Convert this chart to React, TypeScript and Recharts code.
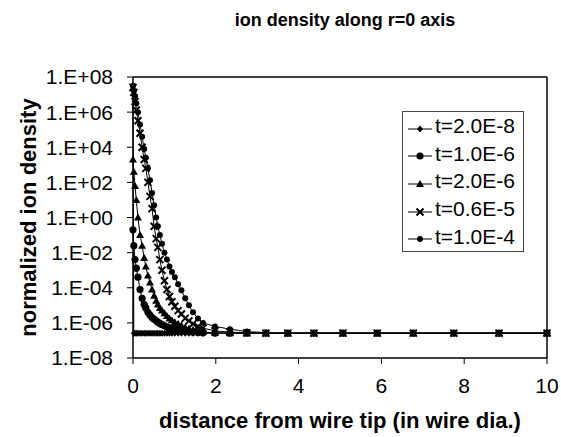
import { Legend, Line, LineChart, ReferenceLine, XAxis, YAxis } from "recharts"

const distance = [
  0, 0.02, 0.05, 0.08, 0.12, 0.17, 0.22, 0.27, 0.31, 0.36, 0.41, 0.46, 0.51, 0.56, 0.6, 0.65, 0.7, 0.76, 0.82, 0.88,
  0.94, 1.01, 1.09, 1.17, 1.26, 1.35, 1.45, 1.57, 1.69, 1.98, 2.34, 2.75, 3.21, 3.74, 4.37, 5.07, 5.9, 6.77, 7.75,
  8.84, 10,
]

const t2e8 = [
  3e7, 2.6e-7, 2.6e-7, 2.6e-7, 2.6e-7, 2.6e-7, 2.6e-7, 2.6e-7, 2.6e-7, 2.6e-7, 2.6e-7, 2.6e-7, 2.6e-7, 2.6e-7, 2.6e-7,
  2.6e-7, 2.6e-7, 2.6e-7, 2.6e-7, 2.6e-7, 2.6e-7, 2.6e-7, 2.6e-7, 2.6e-7, 2.6e-7, 2.6e-7, 2.6e-7, 2.6e-7, 2.6e-7,
  2.6e-7, 2.6e-7, 2.6e-7, 2.6e-7, 2.6e-7, 2.6e-7, 2.6e-7, 2.6e-7, 2.6e-7, 2.6e-7, 2.6e-7, 2.6e-7,
]

const t1e6 = [
  2.0e-1, 2.5e-2, 4.0e-3, 1.3e-3, 4.0e-4, 7.9e-5, 2.5e-5, 1.1e-5, 7.1e-6, 4.0e-6, 2.8e-6, 2.0e-6, 1.6e-6, 1.3e-6,
  1.1e-6, 9.3e-7, 7.9e-7, 6.8e-7, 5.9e-7, 5.2e-7, 4.8e-7, 4.4e-7, 4.0e-7, 3.6e-7, 3.3e-7, 3.1e-7, 3.0e-7, 2.8e-7,
  2.7e-7, 2.6e-7, 2.6e-7, 2.6e-7, 2.6e-7, 2.6e-7, 2.6e-7, 2.6e-7, 2.6e-7, 2.6e-7, 2.6e-7, 2.6e-7, 2.6e-7,
]

const t2e6 = [
  2.0e3, 4.0e2, 6.3e1, 1.0e1, 1.0, 1.0e-1, 2.5e-2, 5.0e-3, 1.6e-3, 5.0e-4, 2.0e-4, 7.9e-5, 3.5e-5, 1.8e-5, 1.1e-5,
  7.1e-6, 5.0e-6, 3.5e-6, 2.5e-6, 1.8e-6, 1.4e-6, 1.1e-6, 8.9e-7, 7.1e-7, 5.6e-7, 4.7e-7, 4.0e-7, 3.4e-7, 3.0e-7,
  2.7e-7, 2.6e-7, 2.6e-7, 2.6e-7, 2.6e-7, 2.6e-7, 2.6e-7, 2.6e-7, 2.6e-7, 2.6e-7, 2.6e-7, 2.6e-7,
]

const t6e6 = [
  2.5e7, 1.3e7, 4.0e6, 1.3e6, 3.2e5, 6.3e4, 1.0e4, 2.0e3, 6.3e2, 1.0e2, 1.6e1, 3.2, 3.2e-1, 6.3e-2, 2.0e-2, 4.0e-3,
  1.0e-3, 2.5e-4, 7.9e-5, 3.2e-5, 1.6e-5, 8.9e-6, 5.0e-6, 3.2e-6, 1.8e-6, 1.3e-6, 8.9e-7, 6.3e-7, 5.0e-7, 3.5e-7,
  3.0e-7, 2.7e-7, 2.6e-7, 2.6e-7, 2.6e-7, 2.6e-7, 2.6e-7, 2.6e-7, 2.6e-7, 2.6e-7, 2.6e-7,
]

const t1e4 = [
  3.2e7, 1.6e7, 7.9e6, 3.2e6, 1.0e6, 2.0e5, 4.0e4, 7.9e3, 2.5e3, 6.3e2, 1.3e2, 2.5e1, 5.0, 1.0, 3.2e-1, 1.0e-1,
  3.2e-2, 1.0e-2, 4.0e-3, 1.6e-3, 7.9e-4, 4.0e-4, 1.6e-4, 7.1e-5, 2.5e-5, 1.0e-5, 4.0e-6, 1.8e-6, 1.0e-6, 6.3e-7,
  4.4e-7, 3.2e-7, 2.8e-7, 2.6e-7, 2.6e-7, 2.6e-7, 2.6e-7, 2.6e-7, 2.6e-7, 2.6e-7, 2.6e-7,
]

const xTicks = [0, 2, 4, 6, 8, 10]
const yTicks = [1e-8, 1e-6, 1e-4, 1e-2, 1, 1e2, 1e4, 1e6, 1e8]

const series = [
  { key: "a", name: "t=2.0E-8", shape: "diamond" },
  { key: "b", name: "t=1.0E-6", shape: "circle" },
  { key: "c", name: "t=2.0E-6", shape: "triangle" },
  { key: "d", name: "t=0.6E-5", shape: "cross" },
  { key: "e", name: "t=1.0E-4", shape: "dot" },
]

const data = distance.map((x, i) => ({
  x,
  a: t2e8[i],
  b: t1e6[i],
  c: t2e6[i],
  d: t6e6[i],
  e: t1e4[i],
}))

const font = "'Liberation Sans', Arial, Helvetica, sans-serif"

function marker(shape: string, cx: number, cy: number, key?: string) {
  if (shape === "diamond") {
    return <path key={key} d={`M${cx},${cy - 3.5}L${cx + 3},${cy}L${cx},${cy + 3.5}L${cx - 3},${cy}Z`} fill="#000" />
  }
  if (shape === "triangle") {
    return <path key={key} d={`M${cx},${cy - 4}L${cx + 4},${cy + 3}L${cx - 4},${cy + 3}Z`} fill="#000" />
  }
  if (shape === "cross") {
    return (
      <path
        key={key}
        d={`M${cx - 3.5},${cy - 3.5}L${cx + 3.5},${cy + 3.5}M${cx + 3.5},${cy - 3.5}L${cx - 3.5},${cy + 3.5}`}
        stroke="#000"
        strokeWidth={2}
      />
    )
  }
  if (shape === "circle") {
    return <circle key={key} cx={cx} cy={cy} r={3.6} fill="#000" />
  }
  return <circle key={key} cx={cx} cy={cy} r={3} fill="#000" />
}

function formatExp(v: number) {
  const e = Math.round(Math.log10(v))
  const sign = e < 0 ? "-" : "+"
  return `1.E${sign}${String(Math.abs(e)).padStart(2, "0")}`
}

function LegendBox() {
  return (
    <div
      style={{
        border: "1px solid #444",
        background: "#fff",
        width: 120,
        height: 139,
        boxSizing: "content-box",
        fontFamily: font,
        fontSize: 21,
        color: "#000",
      }}
    >
      {series.map((s) => (
        <div key={s.key} style={{ display: "flex", alignItems: "center", height: 27.6 }}>
          <svg width={32} height={20} style={{ flex: "none" }}>
            <line x1={5} x2={29} y1={13} y2={13} stroke="#000" strokeWidth={1} />
            {marker(s.shape, 17, 13)}
          </svg>
          <span style={{ lineHeight: "27px" }}>{s.name}</span>
        </div>
      ))}
    </div>
  )
}

export default function App() {
  return (
    <div style={{ position: "absolute", left: 0, top: 0, width: 561, height: 437, background: "#fff" }}>
      <div
        style={{
          position: "absolute",
          left: 145,
          top: 8,
          width: 400,
          textAlign: "center",
          fontFamily: font,
          fontWeight: "bold",
          fontSize: 18,
          lineHeight: "24px",
        }}
      >
        ion density along r=0 axis
      </div>
      <LineChart width={561} height={437} data={data} margin={{ top: 77, right: 14, bottom: 0, left: 0 }}>
        <XAxis
          dataKey="x"
          type="number"
          domain={[0, 10]}
          ticks={xTicks}
          height={79}
          axisLine={{ stroke: "#000", strokeWidth: 1.5 }}
          tickLine={{ stroke: "#000" }}
          tickSize={6}
          tickMargin={14}
          tick={{ fill: "#000", fontSize: 21, fontFamily: font }}
          label={{
            value: "distance from wire tip (in wire dia.)",
            position: "insideBottom",
            offset: 9,
            fill: "#000",
            fontSize: 22,
            fontWeight: "bold",
            fontFamily: font,
          }}
        />
        <YAxis
          type="number"
          scale="log"
          domain={[1e-8, 1e8]}
          allowDataOverflow
          ticks={yTicks}
          width={133}
          tickFormatter={formatExp}
          axisLine={{ stroke: "#000", strokeWidth: 1.5 }}
          tickLine={{ stroke: "#000" }}
          tickSize={6}
          tickMargin={14}
          tick={{ fill: "#000", fontSize: 21, fontFamily: font }}
          label={{
            value: "normalized ion density",
            angle: -90,
            position: "insideLeft",
            offset: 28,
            fill: "#000",
            fontSize: 22,
            fontWeight: "bold",
            fontFamily: font,
            style: { textAnchor: "middle" },
          }}
        />
        <ReferenceLine y={1e8} stroke="#000" strokeWidth={1.5} />
        <ReferenceLine x={10} stroke="#000" strokeWidth={1.5} />
        {series.map((s) => (
          <Line
            key={s.key}
            dataKey={s.key}
            name={s.name}
            stroke="#000"
            strokeWidth={1}
            isAnimationActive={false}
            dot={(p: any) => marker(s.shape, p.cx, p.cy, `${s.key}-${p.index}`)}
            activeDot={false}
          />
        ))}
        <Legend
          layout="vertical"
          align="center"
          verticalAlign="middle"
          content={() => <LegendBox />}
          wrapperStyle={{ position: "absolute", left: 402, top: 111, width: 122, height: 141 }}
        />
      </LineChart>
    </div>
  )
}
